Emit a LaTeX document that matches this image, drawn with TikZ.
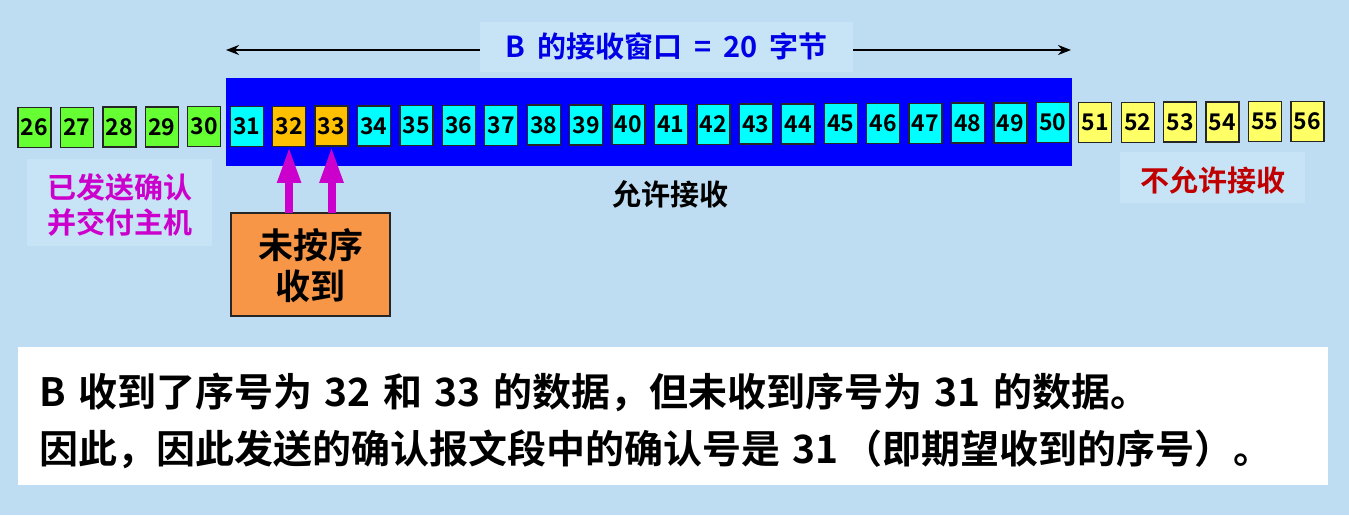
\documentclass[tikz,border=0pt]{standalone}
\usepackage{fontspec}
\setmainfont{Noto Sans CJK SC}[BoldFont={Noto Sans CJK SC Bold}]
\usetikzlibrary{arrows.meta}
\definecolor{bg}{RGB}{190,221,242}
\definecolor{lbl}{RGB}{199,227,246}
\definecolor{winblue}{RGB}{0,0,255}
\definecolor{titleblue}{RGB}{0,0,230}
\definecolor{cgreen}{RGB}{102,255,51}
\definecolor{ccyan}{RGB}{0,255,255}
\definecolor{corange}{RGB}{255,192,0}
\definecolor{cyellow}{RGB}{255,255,102}
\definecolor{lorange}{RGB}{247,150,70}
\definecolor{mag}{RGB}{204,0,204}
\definecolor{dred}{RGB}{192,0,0}
\newcommand{\fs}[1]{\fontsize{#1}{#1}\selectfont}
\newcommand{\gap}{\hspace{0.32em}}
\newcommand{\tgap}{\hspace{0.42em}}
\begin{document}
\begin{tikzpicture}[x=1pt,y=-1pt,
  cell/.style={draw=black!85, line width=1.3pt, minimum width=33pt, minimum height=40pt,
    inner sep=0pt, font=\bfseries\fs{23}, text height=16.5pt, text depth=0pt},
  plain/.style={inner sep=0pt, anchor=base, font=\bfseries\fs{29}},
  big/.style={inner sep=0pt, anchor=base west, font=\bfseries\fs{39}},
  panel/.style={inner sep=0pt, anchor=north west, outer sep=0pt},
  uparrow/.style={draw=mag, line width=8pt, -{Triangle[length=36pt,width=22pt]}},
  spanarrow/.style={line width=2pt, {Stealth[length=13pt,width=10pt]}-{Stealth[length=13pt,width=10pt]}}
]
\useasboundingbox (0,0) rectangle (1349,515);
\fill[bg] (0,0) rectangle (1349,515);

% receive window band
\node[panel, fill=winblue, minimum width=846pt, minimum height=88pt] (window) at (226,78) {};

% window width arrow and title
\coordinate (arrL) at (226,50);
\coordinate (arrR) at (1071,50);
\draw[spanarrow] (arrL) -- (arrR);
\node[panel, fill=lbl, minimum width=373pt, minimum height=50pt] (titlebox) at (480,22) {};
\node[plain, text=titleblue] (title) at (666.5,57) {B\tgap 的接收窗口\tgap=\tgap 20\tgap 字节};

% byte cells
\foreach \i in {26,...,56}{
  \ifnum\i<31 \def\cc{cgreen}\else
   \ifnum\i>50 \def\cc{cyellow}\else
    \ifnum\i=32 \def\cc{corange}\else
     \ifnum\i=33 \def\cc{corange}\else \def\cc{ccyan}\fi\fi\fi\fi
  \node[cell, fill=\cc] (c\i) at ({34.5+(\i-26)*42.43},{127.5-0.2*(\i-26)}) {\i};
}

% left label
\node[panel, fill=lbl, minimum width=185pt, minimum height=87pt] (sentbox) at (27,159) {};
\node[plain, text=mag] (sent1) at (120,198) {已发送确认};
\node[plain, text=mag] (sent2) at (120,233) {并交付主机};

% middle label
\node[plain, text=black] (allow) at (670,205) {允许接收};

% right label
\node[panel, fill=lbl, minimum width=185pt, minimum height=51pt] (denybox) at (1120,152) {};
\node[plain, text=dred] (deny) at (1213,191) {不允许接收};

% out of order box
\node[panel, draw=black!85, line width=1.3pt, fill=lorange, minimum width=159pt, minimum height=103pt] (ooo) at (231,213) {};
\node[plain, font=\bfseries\fs{35}] (ooo1) at (310.5,258) {未按序};
\node[plain, font=\bfseries\fs{35}] (ooo2) at (310.5,299) {收到};
\draw[uparrow] (c32.south |- ooo.north) -- (c32.south);
\draw[uparrow] (c33.south |- ooo.north) -- (c33.south);

% note
\node[panel, fill=white, minimum width=1310pt, minimum height=138pt] (note) at (18,347) {};
\node[big] (line1) at (39,406) {B\gap 收到了序号为\gap 32\gap 和\gap 33\gap 的数据，但未收到序号为\gap 31\gap 的数据。};
\node[big] (line2) at (39,463) {因此，因此发送的确认报文段中的确认号是\gap 31\hspace{0.12em}（即期望收到的序号）。};
\end{tikzpicture}
\end{document}
